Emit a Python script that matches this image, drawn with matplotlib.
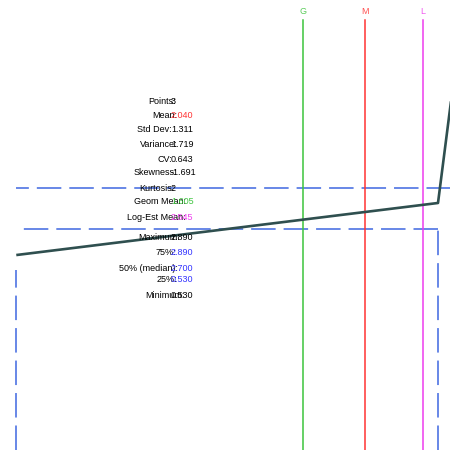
"""対数確率プロット（統計量テキスト付き）"""

from statistics import NormalDist

import matplotlib
matplotlib.use("Agg")
import matplotlib.pyplot as plt
import numpy as np

plt.rcParams["font.family"] = ["Liberation Sans", "DejaVu Sans"]

# データ
values = [0.53, 2.70, 2.89]
cum_prob = [0.333, 0.667, 0.9967]      # 順位による累積確率（最上位は丸め）

quantile_probs = [0.25, 0.50, 0.75]
quantile_vals = [0.53, 2.70, 2.89]

ref_names = ["G", "M", "L"]
ref_vals = [1.605, 2.040, 2.545]        # Geom Mean, Mean, Log-Est Mean

stat_labels = ["Points:", "Mean:", "Std Dev:", "Variance:", "CV:", "Skewness:",
               "Kurtosis:", "Geom Mean:", "Log-Est Mean:", "Maximum:", "75%:",
               "50% (median):", "25%:", "Minimum:"]
stat_values = ["3", "2.040", "1.311", "1.719", "0.643", "-1.691", "2", "1.605",
               "2.545", "2.890", "2.890", "2.700", "0.530", "0.530"]

# カラー定義
COLOR_CURVE = "#2f4f4f"
COLOR_QUANT = "#4169e1"
COLOR_REF = ["#3cc43c", "#ff3333", "#ee3cee"]
VALUE_COLORS = ["black", "#ff3333", "black", "black", "black", "black", "black",
                "#3cc43c", "#ee3cee", "black", "#3333ff", "#3333ff", "#3333ff", "black"]

# テキスト配置（ピクセル）
ROW_Y = [101, 115.7, 130, 144.3, 159, 172.7, 188.3, 201.7, 217.3, 237.3,
         252.7, 268.3, 280, 296]
LABEL_RIGHT = [176, 177, 172, 177, 172, 177, 175, 186, 186, 180, 176, 178, 177, 185]
VALUE_LEFT = 171

W = H = 450
nd = NormalDist()
fwd = np.vectorize(lambda p: nd.inv_cdf(min(max(p, 1e-9), 1 - 1e-9)))
inv = np.vectorize(nd.cdf)

fig = plt.figure(figsize=(4.5, 4.5), dpi=100)
ax = fig.add_axes([0, 0, 1, 1])
ax.set_xscale("log")
ax.set_yscale("function", functions=(fwd, inv))
ax.set_xlim(0.4977, 2.828)
y_bottom = nd.cdf(-3.665)
ax.set_ylim(y_bottom, nd.cdf(3.798))
ax.axis("off")

# 四分位の破線（点から左へ、下端から点へ）
dash_kw = dict(color=COLOR_QUANT, lw=1.4, alpha=0.8, dashes=(12.6, 4.1))
x_min = min(values)
for q, p in zip(quantile_vals, quantile_probs):
    ax.plot([q, x_min], [p, p], **dash_kw)
    ax.plot([q, q], [y_bottom, p], **dash_kw)

# 参照線 G / M / L
for name, v, c in zip(ref_names, ref_vals, COLOR_REF):
    ax.axvline(v, ymin=0, ymax=1 - 20 / H, color=c, lw=1.1)
    ax.text(v, 1 - 11 / H, name, color=c, alpha=0.85, fontsize=6.5,
            ha="center", va="center", transform=ax.get_xaxis_transform())

# 累積分布
ax.plot(values, cum_prob, color=COLOR_CURVE, lw=1.9, solid_capstyle="butt")

# 統計量テキスト
for lab, val, vc, y, xr in zip(stat_labels, stat_values, VALUE_COLORS, ROW_Y, LABEL_RIGHT):
    fig.text(xr / W, 1 - y / H, lab, fontsize=6.5, ha="right", va="center")
    fig.text(VALUE_LEFT / W, 1 - y / H, val, fontsize=6.5, ha="left", va="center",
             color=vc)

fig.savefig("out.png", dpi=100)
